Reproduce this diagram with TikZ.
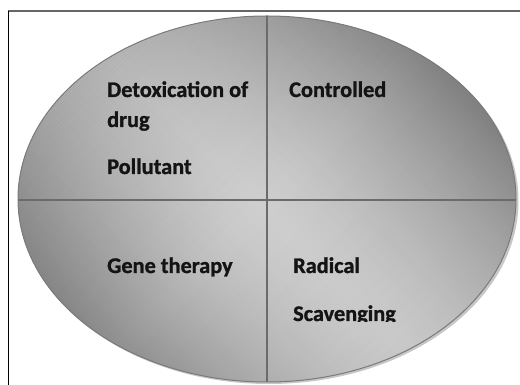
\documentclass[tikz,border=0pt]{standalone}
\usepackage{fontspec}
\setmainfont{Carlito}[BoldFeatures={FakeBold=1.2}]
\begin{document}
\begin{tikzpicture}[x=1pt,y=1pt,
  lbl/.style={anchor=base west,inner sep=0pt,font=\bfseries\fontsize{22.3}{26}\selectfont,text=black!92},
  divider/.style={draw=black!58,line width=1.8pt}]
\useasboundingbox (0,0) rectangle (520,385);
% frame
\draw[black!60,line width=1.4pt] (8,374) -- (520,374);
\draw[black,line width=1pt] (8,374) -- (8,0);
% shadow
\fill[black!22] (269,184) ellipse [x radius=249.5, y radius=183];
% ellipse with manual gradient
\begin{scope}
  \clip (267,186) ellipse [x radius=249, y radius=183];
  \begin{scope}[shift={(267,186)}, rotate=45]
    \foreach \u in {-225,-222,...,225} {
      \pgfmathsetmacro\p{(49+75*pow(max(min(abs(\u+11.5),225),0.01)/225,1.5))/2.55}
      \fill[black!\p] (\u,-300) rectangle (\u+3.6,300);
    }
  \end{scope}
  \begin{scope}[shift={(267,186)}, rotate=135]
    \foreach \v in {-225,-222,...,225} {
      \pgfmathsetmacro\o{0.13*pow(max(min(\v+1.5,225),0.01)/225,1.3)+0.03*max(-\v-1.5,0)/225}
      \fill[black, opacity=\o] (\v,-300) rectangle (\v+3,300);
    }
  \end{scope}
\end{scope}
\draw[black!52,line width=1pt] (267,186) ellipse [x radius=249, y radius=183];
% dividers
\coordinate (t) at (267,369);
\coordinate (b) at (267,3);
\coordinate (l) at (18,185);
\coordinate (r) at (516,185);
\draw[divider] (t) -- (b);
\draw[divider] (l) -- (r);
% labels
\node[lbl] (d1) at (107,288) {Detoxication of};
\node[lbl] (d2) at (107,258) {drug};
\node[lbl] (p) at (107,211) {Pollutant};
\node[lbl] (c) at (289,288) {Controlled};
\node[lbl] (g) at (107,112) {Gene therapy};
\node[lbl] (ra) at (293,112) {Radical};
\begin{scope}
  \clip (280,63) rectangle (420,95);
  \node[lbl] (s) at (293,64) {Scavenging};
\end{scope}
\end{tikzpicture}
\end{document}
